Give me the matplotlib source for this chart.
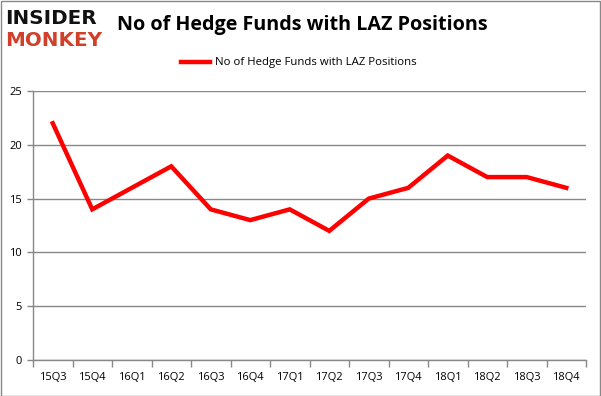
import matplotlib
matplotlib.use("Agg")
import matplotlib.pyplot as plt
from matplotlib.patches import Rectangle
from matplotlib.lines import Line2D

quarters = ["15Q3", "15Q4", "16Q1", "16Q2", "16Q3", "16Q4", "17Q1", "17Q2",
            "17Q3", "17Q4", "18Q1", "18Q2", "18Q3", "18Q4"]
funds = [22, 14, 16, 18, 14, 13, 14, 12, 15, 16, 19, 17, 17, 16]
yticks = [0, 5, 10, 15, 20, 25]
series_name = "No of Hedge Funds with LAZ Positions"
title = "No of Hedge Funds with LAZ Positions"

W, H = 601, 396
fig = plt.figure(figsize=(W / 100, H / 100), dpi=100)
fig.patch.set_facecolor("white")

# plot area in pixels: left 33, right 586, top 91, bottom 360
ax = fig.add_axes([33 / W, 1 - 360 / H, (586 - 33) / W, (360 - 91) / H])
x = list(range(len(quarters)))
ax.plot(x, funds, color="#ff0000", lw=3.2, solid_joinstyle="miter", zorder=3)

ax.set_xlim(-0.5, len(quarters) - 0.5)
ax.set_ylim(0, 25)
ax.set_yticks(yticks)
ax.set_xticks(x)
ax.set_xticklabels(quarters)
ax.set_xticks([i - 0.5 for i in range(len(quarters) + 1)], minor=True)
ax.tick_params(axis="x", which="major", length=0, pad=9, labelsize=8, labelcolor="#000000")
ax.tick_params(axis="x", which="minor", length=5, color="#888888", width=1)
ax.tick_params(axis="y", which="major", length=4, color="#888888", width=1, labelsize=8, pad=4)
for lbl in ax.get_xticklabels() + ax.get_yticklabels():
    lbl.set_fontfamily("Open Sans")

ax.grid(axis="y", color="#888888", lw=1)
ax.set_axisbelow(True)
for s in ["top", "right"]:
    ax.spines[s].set_visible(False)
for s in ["left", "bottom"]:
    ax.spines[s].set_color("#888888")
    ax.spines[s].set_linewidth(1)

# title
fig.text(302 / W, 1 - 25 / H, title, ha="center", va="center",
         fontsize=14.2, fontweight="bold", family="Open Sans", color="#000000")

# legend
fig.add_artist(Line2D([181 / W, 210 / W], [1 - 62 / H, 1 - 62 / H],
                      color="#ff0000", lw=3.2, transform=fig.transFigure))
fig.text(215 / W, 1 - 62 / H, series_name, ha="left", va="center",
         fontsize=8.2, family="Open Sans", color="#000000")

# logo
fig.text(5 / W, 1 - 19 / H, "INSIDER", ha="left", va="center",
         fontsize=14.3, fontweight="heavy", family="DejaVu Sans", color="#111111")
fig.text(5 / W, 1 - 40 / H, "MONKEY", ha="left", va="center",
         fontsize=14.3, fontweight="heavy", family="DejaVu Sans", color="#d0402a")

# border
fig.add_artist(Rectangle((0.5 / W, 0.5 / H), (W - 1.5) / W, (H - 1.5) / H,
                         fill=False, edgecolor="#888888", lw=1,
                         transform=fig.transFigure))

fig.savefig("out.png", dpi=100)
